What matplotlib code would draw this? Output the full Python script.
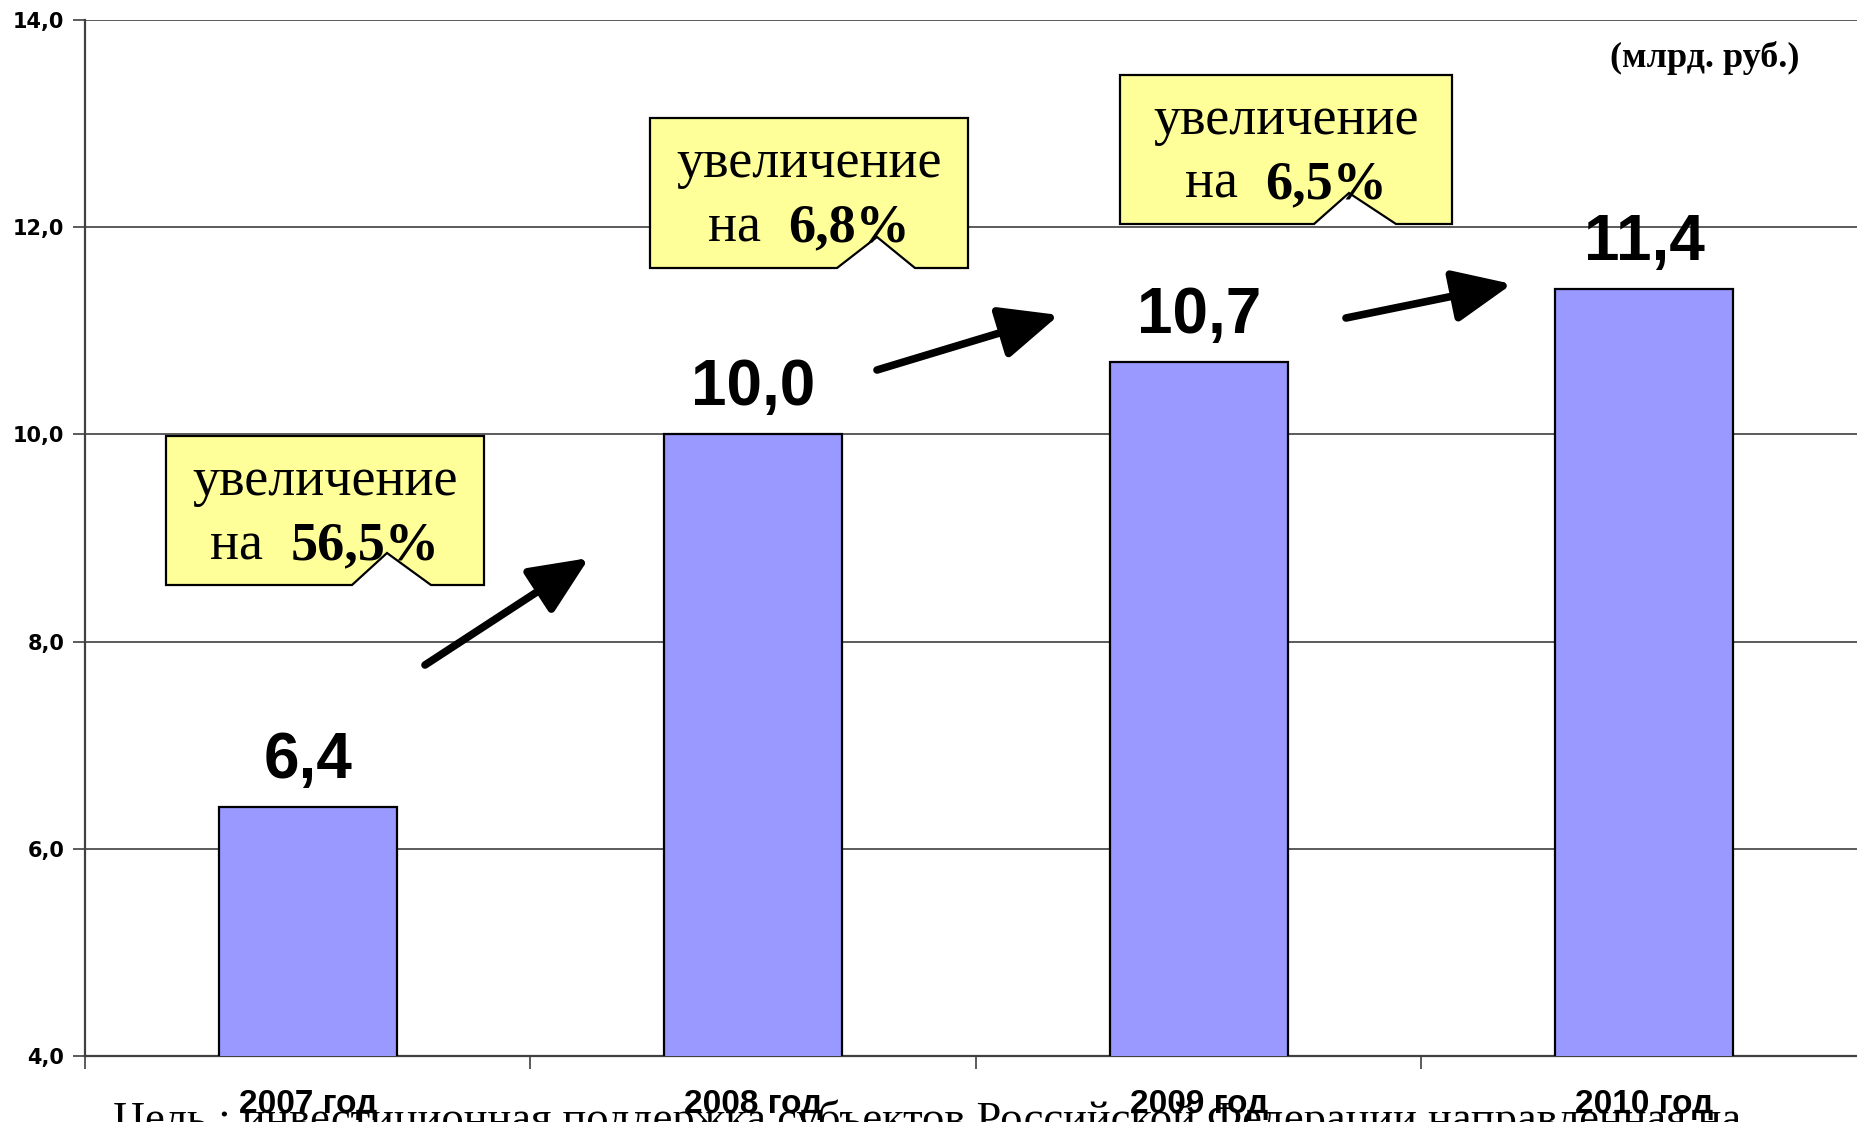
import numpy as np
import matplotlib
matplotlib.use("Agg")
import matplotlib.pyplot as plt
from matplotlib.patches import Polygon, FancyArrowPatch

# data
years = ["2007 год", "2008 год", "2009 год", "2010 год"]
values = [6.4, 10.0, 10.7, 11.4]
value_labels = ["6,4", "10,0", "10,7", "11,4"]
growth = ["56,5%", "6,8%", "6,5%"]
yticks = [4, 6, 8, 10, 12, 14]
ytick_labels = ["4,0", "6,0", "8,0", "10,0", "12,0", "14,0"]

W, H = 1858, 1122
fig = plt.figure(figsize=(W / 100, H / 100), dpi=100)
ax = fig.add_axes([85 / W, 66 / H, 1782 / W, 1036 / H])

x = np.arange(len(years))
ax.bar(x, values, width=0.4, color="#9999ff", edgecolor="black", linewidth=1.6, zorder=3)
ax.set_xlim(-0.5, 3.5)
ax.set_ylim(4, 14)

ax.set_yticks(yticks)
ax.set_yticklabels(ytick_labels, family="DejaVu Sans", fontweight="bold", fontsize=15)
ax.tick_params(axis="y", length=9, width=1.2, pad=6, color="#404040")
ax.yaxis.grid(True, color="#404040", linewidth=1.2, zorder=0)

# labels under the middle of each category, tick marks on the boundaries
ax.set_xticks(x)
ax.set_xticklabels(years, family="Liberation Sans", fontweight="bold", fontsize=24)
ax.tick_params(axis="x", which="major", length=0, pad=24)
ax.set_xticks(np.arange(-0.5, 4.0, 1.0), minor=True)
ax.tick_params(axis="x", which="minor", length=9, width=1.2, color="#404040")

for s in ["top", "right"]:
    ax.spines[s].set_visible(False)
ax.spines["left"].set_color("#404040")
ax.spines["left"].set_linewidth(1.6)
ax.spines["bottom"].set_color("#404040")
ax.spines["bottom"].set_linewidth(1.6)

for xi, v, lab in zip(x, values, value_labels):
    ax.text(xi, v + 0.28, lab, ha="center", va="baseline", family="Liberation Sans",
            fontweight="bold", fontsize=46)

def fp(px, py):
    return (px / W, 1 - py / H)

# callout boxes with the notch in the bottom edge (figure pixels)
boxes = [
    dict(l=166, r=484, t=436, b=585, nl=352, ax_=387, ay=553, nr=431),
    dict(l=650, r=968, t=118, b=268, nl=837, ax_=877, ay=237, nr=915),
    dict(l=1120, r=1452, t=75, b=224, nl=1314, ax_=1349, ay=193, nr=1396),
]
renderer = fig.canvas.get_renderer()
for bx, g in zip(boxes, growth):
    pts = [(bx["l"], bx["t"]), (bx["r"], bx["t"]), (bx["r"], bx["b"]), (bx["nr"], bx["b"]),
           (bx["ax_"], bx["ay"]), (bx["nl"], bx["b"]), (bx["l"], bx["b"])]
    poly = Polygon([fp(*p) for p in pts], closed=True, transform=fig.transFigure,
                   facecolor="#ffff99", edgecolor="black", linewidth=1.6, zorder=5)
    fig.patches.append(poly)
    cx = (bx["l"] + bx["r"]) / 2
    fig.text(*fp(cx, bx["t"] + 59), "увеличение", ha="center", va="baseline",
             family="Liberation Serif", fontsize=39, zorder=6)
    t1 = fig.text(0, 0, "на  ", family="Liberation Serif", fontsize=39, va="baseline", zorder=6)
    t2 = fig.text(0, 0, g, family="Liberation Serif", fontweight="bold", fontsize=39,
                  va="baseline", zorder=6)
    w1 = t1.get_window_extent(renderer).width
    w2 = t2.get_window_extent(renderer).width
    x0 = cx - (w1 + w2) / 2
    t1.set_position(fp(x0, bx["t"] + 123))
    t2.set_position(fp(x0 + w1, bx["t"] + 123))

# growth arrows between the bars (figure pixels, y from the top)
arrows = [((425, 665), (589, 558)), ((877, 370), (1059, 315)), ((1346, 318), (1512, 284))]
for (x1, y1), (x2, y2) in arrows:
    arr = FancyArrowPatch((x1, H - y1), (x2, H - y2), transform=None,
                          arrowstyle="-|>,head_length=3.6,head_width=1.6",
                          mutation_scale=10, linewidth=5.5, color="black",
                          shrinkA=0, shrinkB=0, zorder=6)
    fig.patches.append(arr)

fig.text(*fp(1800, 67), "(млрд. руб.)", ha="right", va="baseline",
         family="Liberation Serif", fontweight="bold", fontsize=26)

# footer line, cut by the lower edge as in the screenshot
fig.text(*fp(113, 1132), "Цель : инвестиционная поддержка субъектов Российской Федерации направленная на",
         ha="left", va="baseline", family="Liberation Serif", fontsize=32, zorder=1)

fig.savefig("out.png", dpi=100)
